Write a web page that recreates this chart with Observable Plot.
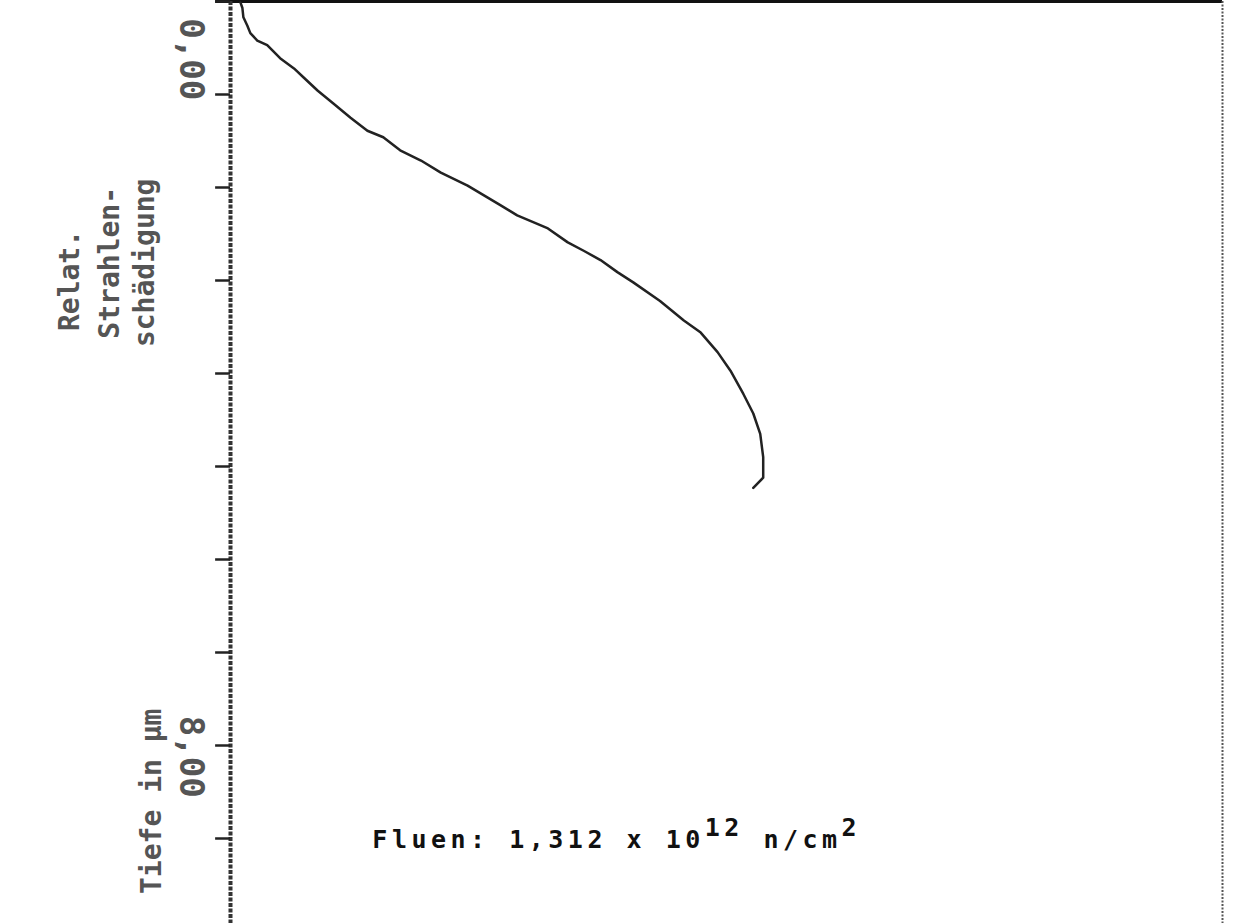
<!DOCTYPE html>
<html>
<head>
<meta charset="utf-8">
<script src="https://cdn.jsdelivr.net/npm/d3@7"></script>
<script src="https://cdn.jsdelivr.net/npm/@observablehq/plot@0.6"></script>
<style>
  html, body { margin: 0; padding: 0; background: #fff; }
  #chart { width: 1254px; height: 923px; overflow: hidden; }
</style>
</head>
<body>
<div id="chart"></div>
<script>
// Profile curve (horizontal value, vertical depth in axis units)
const profileX = [0.10, 0.12, 0.13, 0.17, 0.20, 0.27, 0.37, 0.50, 0.64, 0.74, 0.88, 1.04, 1.21, 1.38, 1.54, 1.71, 1.92, 2.12, 2.39, 2.72, 2.89, 3.20, 3.40, 3.56, 3.73, 3.90, 4.06, 4.33, 4.57, 4.74, 4.91, 5.04, 5.17, 5.27, 5.34, 5.37, 5.37, 5.27];
const profileY = [0.01, 0.07, 0.17, 0.26, 0.34, 0.42, 0.47, 0.61, 0.72, 0.82, 0.96, 1.10, 1.25, 1.39, 1.46, 1.60, 1.71, 1.84, 1.98, 2.19, 2.30, 2.44, 2.59, 2.68, 2.78, 2.91, 3.02, 3.22, 3.43, 3.56, 3.77, 3.97, 4.22, 4.43, 4.65, 4.90, 5.12, 5.23];

// Vertical axis ticks
const yTicks = [0, 1, 2, 3, 4, 5, 6, 7, 8, 9];

// Rotated labels in the left margin (scan is barely legible)
const tickLabelText = ["0,00", "8,00"];
const tickLabelAt = [0.62, 8.12];
const titleLines = ["Relat.", "Strahlen-", "schädigung"];
const titleAt = [3.0, 2.81, 2.81];
const bottomLabel = ["Tiefe in µm"];
const bottomLabelAt = [8.6];

// Annotation
const noteParts = ["Fluen: 1,312 x 10", "12", " n/cm", "2"];
const noteAt = {x: 1.43, y: 9.1};

const profile = profileX.map((x, i) => ({x, y: profileY[i]}));
const tickLabels = tickLabelText.map((t, i) => ({t, y: tickLabelAt[i]}));
const titles = titleLines.map((t, i) => ({t, y: titleAt[i], i}));
const bottoms = bottomLabel.map((t, i) => ({t, y: bottomLabelAt[i]}));

const labelStyle = {rotate: -90, fontSize: 28, fontWeight: "bold", fill: "#555"};

const chart = Plot.plot({
  width: 1254,
  height: 923,
  marginLeft: 230,
  marginRight: 32,
  marginTop: 1,
  marginBottom: 0,
  x: {domain: [0, 10], axis: null},
  y: {domain: [0, 9.914], reverse: true, axis: null},
  style: {background: "#fff", fontFamily: "DejaVu Sans Mono", color: "#111"},
  marks: [
    Plot.ruleY([0], {x1: -0.15, x2: 10, stroke: "#111", strokeWidth: 3}),
    Plot.ruleX([0], {stroke: "#333", strokeWidth: 4, strokeDasharray: "4,1.5"}),
    Plot.ruleX([10], {stroke: "#555", strokeWidth: 2, strokeDasharray: "2,1.5"}),
    Plot.ruleY(yTicks, {y: d => d, x1: -0.15, x2: 0, stroke: "#222", strokeWidth: 2.5}),
    Plot.line(profile, {x: "x", y: "y", stroke: "#222", strokeWidth: 2.5}),
    Plot.text(tickLabels, {x: () => 0, y: "y", text: "t", dx: -40, rotate: 90, fontSize: 34, fontWeight: "bold", fill: "#555"}),
    Plot.text(titles.filter(d => d.i === 0), {x: () => 0, y: "y", text: "t", dx: -160, ...labelStyle}),
    Plot.text(titles.filter(d => d.i === 1), {x: () => 0, y: "y", text: "t", dx: -120, ...labelStyle}),
    Plot.text(titles.filter(d => d.i === 2), {x: () => 0, y: "y", text: "t", dx: -85, ...labelStyle}),
    Plot.text(bottoms, {x: () => 0, y: "y", text: "t", dx: -78, ...labelStyle}),
    Plot.text([noteAt], {x: "x", y: "y", text: () => noteParts.join(""), textAnchor: "start", lineAnchor: "bottom", fontSize: 25, fontWeight: "bold", fill: "#111", ariaDescription: "note"})
  ]
});

document.getElementById("chart").appendChild(chart);

// Build superscripts inside the annotation text
d3.select(chart).selectAll("g[aria-description='note'] text").each(function() {
  const t = d3.select(this);
  t.text(null).style("letter-spacing", "4.5px");
  const shifts = [0, -12, 12, -12];
  noteParts.forEach((p, i) => {
    t.append("tspan").attr("dy", shifts[i]).text(p);
  });
});
</script>
</body>
</html>
